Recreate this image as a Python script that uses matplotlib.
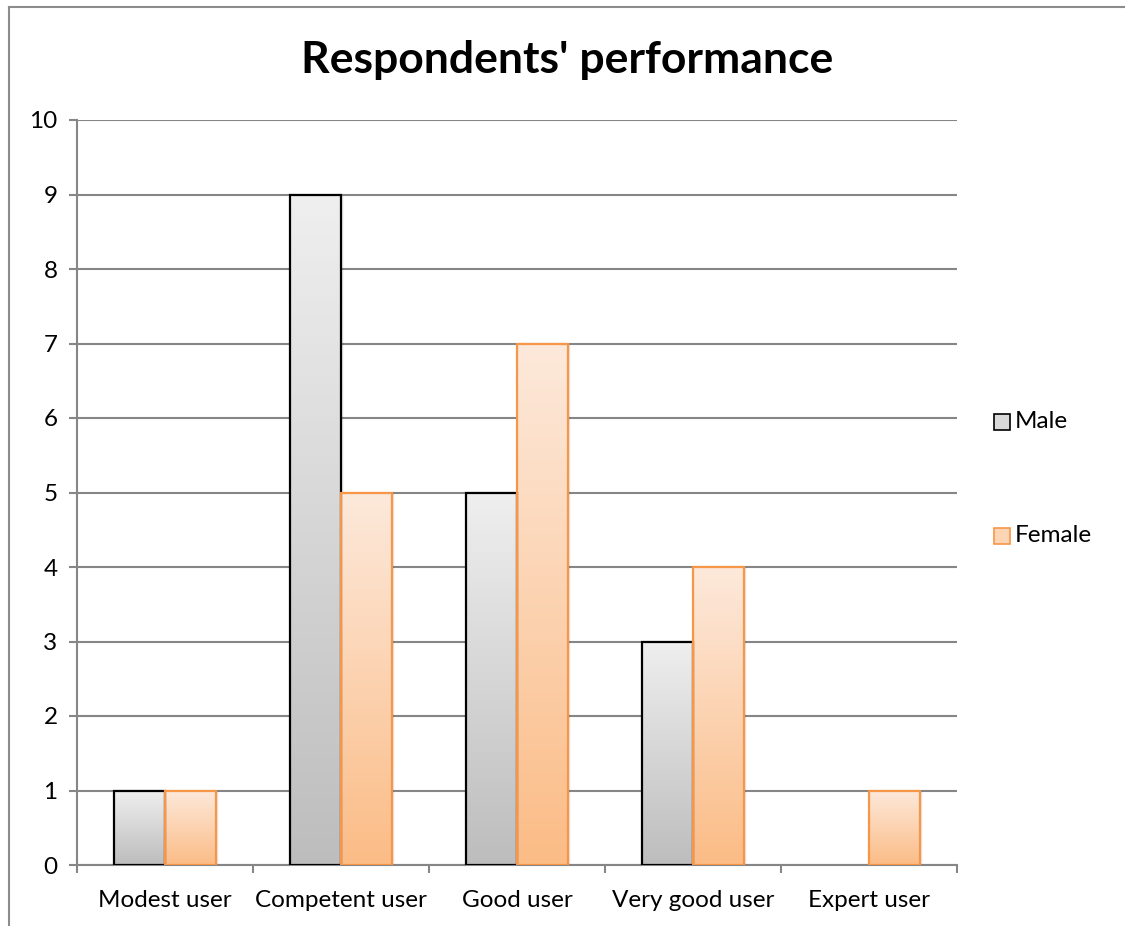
import numpy as np
import matplotlib
matplotlib.use("Agg")
import matplotlib.pyplot as plt
from matplotlib.patches import Rectangle
from matplotlib.lines import Line2D
from matplotlib.colors import LinearSegmentedColormap

plt.rcParams['font.family'] = ['Lato', 'DejaVu Sans']

categories = ["Modest user", "Competent user", "Good user", "Very good user", "Expert user"]
male = [1, 9, 5, 3, 0]
female = [1, 5, 7, 4, 1]
series_names = ["Male", "Female"]
yticks = [0, 1, 2, 3, 4, 5, 6, 7, 8, 9, 10]

W, H = 1125, 926
fig = plt.figure(figsize=(W / 100, H / 100), dpi=100)
ax = fig.add_axes([77 / W, 61 / H, 880 / W, 745 / H])

grid_col = "#868686"
bar_w = 0.287
fs = 17.5

male_cmap = LinearSegmentedColormap.from_list("m", ["#bdbdbd", "#efefef"])
female_cmap = LinearSegmentedColormap.from_list("f", ["#fbbc86", "#fde9db"])
grad = np.linspace(0, 1, 256).reshape(-1, 1)

x = np.arange(len(categories))


def gradient_bars(xpos, vals, cmap, edge, lw):
    bars = ax.bar(xpos, vals, width=bar_w, facecolor="none", edgecolor=edge,
                  linewidth=lw, zorder=4)
    for b in bars:
        h = b.get_height()
        if h <= 0:
            b.set_visible(False)
            continue
        x0, w = b.get_x(), b.get_width()
        # soft drop shadow
        for k, a in enumerate([0.10, 0.06, 0.03]):
            off = 0.006 * (k + 1)
            ax.add_patch(Rectangle((x0 + off, -0.02), w, h, facecolor="black",
                                   edgecolor="none", alpha=a, zorder=2.5))
        im = ax.imshow(grad, cmap=cmap, aspect="auto", origin="lower",
                       extent=[x0, x0 + w, 0, h], zorder=3)
        im.set_clip_path(b)
    return bars


gradient_bars(x - bar_w / 2, male, male_cmap, "black", 1.6)
gradient_bars(x + bar_w / 2, female, female_cmap, "#f79646", 1.6)

ax.set_xlim(-0.5, len(categories) - 0.5)
ax.set_ylim(0, 10)
ax.set_yticks(yticks)
ax.yaxis.grid(True, color=grid_col, linewidth=1.5)
ax.set_axisbelow(True)

for s in ["top", "right"]:
    ax.spines[s].set_visible(False)
for s in ["left", "bottom"]:
    ax.spines[s].set_color(grid_col)
    ax.spines[s].set_linewidth(1.5)

ax.tick_params(axis="y", length=6, width=1.5, color=grid_col, pad=8,
               labelsize=fs, labelcolor="black")
ax.set_xticks(x)
ax.set_xticklabels(categories)
ax.set_xticks(np.arange(len(categories) + 1) - 0.5, minor=True)
ax.tick_params(axis="x", which="major", length=0, pad=18, labelsize=fs)
ax.tick_params(axis="x", which="minor", length=6, width=1.5, color=grid_col)

fig.text(567 / W, 1 - 60 / H, "Respondents' performance", ha="center", va="center",
         fontsize=32, fontweight="bold")

# legend entries
leg = [("Male", "#d9d9d9", "black", 422), ("Female", "#fcd5b4", "#f79646", 536)]
for name, fc, ec, yc in leg:
    fig.add_artist(Rectangle((994 / W, 1 - (yc + 8) / H), 16 / W, 16 / H,
                             transform=fig.transFigure, facecolor=fc,
                             edgecolor=ec, linewidth=1.2))
    fig.text(1015 / W, 1 - yc / H, name, ha="left", va="center", fontsize=fs)

# chart border
fig.add_artist(Line2D([9 / W, 1], [1 - 7 / H, 1 - 7 / H], transform=fig.transFigure,
                      color="#8c8c8c", linewidth=1.5))
fig.add_artist(Line2D([9 / W, 9 / W], [0, 1 - 7 / H], transform=fig.transFigure,
                      color="#8c8c8c", linewidth=1.5))

fig.savefig("out.png", dpi=100, facecolor="white")
